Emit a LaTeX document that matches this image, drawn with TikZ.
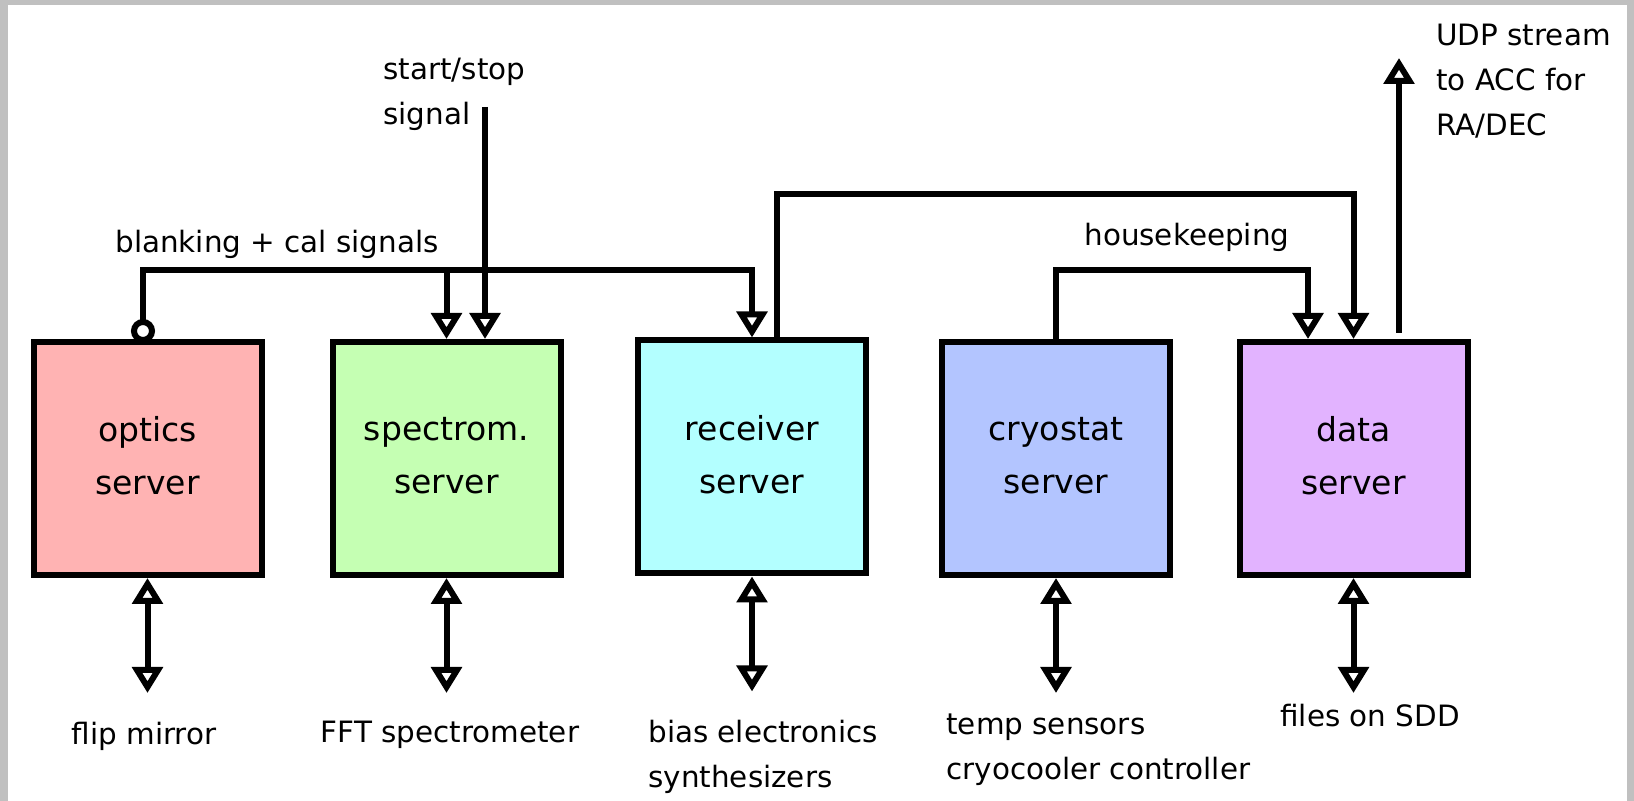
\documentclass[tikz,border=0pt]{standalone}
\usepackage{fontspec}
\setmainfont{DejaVu Sans}
\usetikzlibrary{arrows.meta}

\definecolor{opticsfill}{RGB}{255,179,179}
\definecolor{spectromfill}{RGB}{197,255,179}
\definecolor{receiverfill}{RGB}{179,255,255}
\definecolor{cryostatfill}{RGB}{179,197,255}
\definecolor{datafill}{RGB}{226,179,255}
\definecolor{framegray}{RGB}{192,192,192}

\begin{document}
\begin{tikzpicture}[x=0.5pt,y=-0.5pt,
    server/.style={draw,line width=3pt,minimum width=114pt,minimum height=116.5pt,
      inner sep=0pt,text depth=3pt,align=center,font=\fontsize{16.5}{26.5}\selectfont},
    wire/.style={line width=3pt},
    tip/.style={-{Triangle[open,length=13pt,width=15pt]}},
    twoway/.style={{Triangle[open,length=13pt,width=15pt]}-{Triangle[open,length=13pt,width=15pt]}},
    lbl/.style={inner sep=0pt,align=left,font=\fontsize{14.7}{22.5}\selectfont}]
    \useasboundingbox (0,0) rectangle (1634,801);
    \fill[framegray] (0,0) rectangle (1634,801);
    \fill[white] (8,5) rectangle (1627,801);
    % servers
    \node[server,fill=opticsfill] (optics) at (147.5,458.5) {optics\\server};
    \node[server,fill=spectromfill] (spectrom) at (446.5,458.5) {spectrom.\\server};
    \node[server,fill=receiverfill] (receiver) at (752,457) {receiver\\server};
    \node[server,fill=cryostatfill] (cryostat) at (1056,458.5) {cryostat\\server};
    \node[server,fill=datafill] (data) at (1353.5,458.5) {data\\server};
    % labels
    \node[lbl,anchor=base west] (startlbl) at (383,125) {start/stop\\signal};
    \node[lbl,anchor=base west] (blanklbl) at (115,253) {blanking + cal signals};
    \node[lbl,anchor=base west] (hklbl) at (1084,246) {housekeeping};
    \node[lbl,anchor=base west] (udplbl) at (1436,136) {UDP stream\\to ACC for\\RA/DEC};
    \node[lbl,anchor=base] (flip) at (144,745) {flip mirror};
    \node[lbl,anchor=base] (fft) at (450,742) {FFT spectrometer};
    \node[lbl,anchor=base west] (bias) at (648,788) {bias electronics\\synthesizers};
    \node[lbl,anchor=base west] (temp) at (946,780) {temp sensors\\cryocooler controller};
    \node[lbl,anchor=base] (files) at (1370,726) {files on SDD};
    % bus levels and free ends
    \coordinate (blank-bus) at (0,270);
    \coordinate (acq-bus) at (0,194);
    \coordinate (blank-src) at (143,331);
    \coordinate (start-src) at (485,107);
    \coordinate (rx-out) at ([xshift=12.5pt]receiver.north);
    \coordinate (data-hk) at ([xshift=-22.75pt]data.north);
    \coordinate (udp-src) at (1399,333);
    \coordinate (udp-dst) at (1399,58);
    % top connectors
    \draw[wire,tip] (blank-src) |- (blank-bus -| receiver.north) -- (receiver.north);
    \draw[wire,tip] (blank-bus -| spectrom.north) -- (spectrom.north);
    \draw[wire,fill=white] (blank-src) circle (9);
    \draw[wire,tip] (start-src) -- (start-src |- spectrom.north);
    \draw[wire,tip] (rx-out) |- (acq-bus -| data.north) -- (data.north);
    \draw[wire,tip] (cryostat.north) |- (blank-bus -| data-hk) -- (data-hk);
    \draw[wire,tip] (udp-src) -- (udp-dst);
    % bottom connectors
    \foreach \srv in {optics,spectrom,receiver,cryostat,data}
      \draw[wire,twoway] (\srv.south) -- ++(0,115);
\end{tikzpicture}
\end{document}
